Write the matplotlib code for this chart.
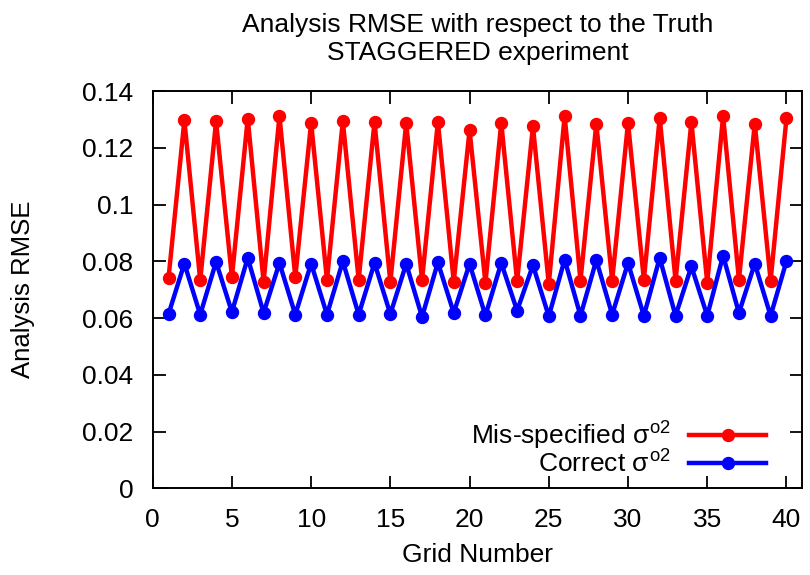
import numpy as np
import matplotlib
matplotlib.use("Agg")
import matplotlib.pyplot as plt
from matplotlib.ticker import FuncFormatter, MultipleLocator

plt.rcParams["font.family"] = ["Liberation Sans", "DejaVu Sans"]
plt.rcParams["mathtext.fontset"] = "custom"
plt.rcParams["mathtext.rm"] = "Liberation Sans"
plt.rcParams["mathtext.it"] = "Liberation Sans"

# grid index and analysis RMSE per grid point
grid = np.arange(1, 41)
rmse_misspec = [0.0741, 0.1297, 0.0733, 0.1294, 0.0744, 0.1303, 0.0727, 0.1312,
                0.0744, 0.1288, 0.0734, 0.1294, 0.0735, 0.1291, 0.0726, 0.1288,
                0.0734, 0.1291, 0.0728, 0.1262, 0.0724, 0.1288, 0.0729, 0.1276,
                0.0720, 0.1312, 0.0732, 0.1285, 0.0732, 0.1288, 0.0735, 0.1306,
                0.0732, 0.1291, 0.0724, 0.1312, 0.0735, 0.1285, 0.0732, 0.1304]
rmse_correct = [0.0614, 0.0792, 0.0612, 0.0798, 0.0621, 0.0812, 0.0618, 0.0794,
                0.0612, 0.0792, 0.0612, 0.0800, 0.0612, 0.0794, 0.0614, 0.0791,
                0.0604, 0.0796, 0.0618, 0.0791, 0.0609, 0.0794, 0.0626, 0.0786,
                0.0606, 0.0806, 0.0608, 0.0804, 0.0612, 0.0794, 0.0608, 0.0812,
                0.0608, 0.0782, 0.0608, 0.0820, 0.0618, 0.0792, 0.0608, 0.0800]

FS = 19
fig = plt.figure(figsize=(8.1, 5.75), dpi=100)
ax = fig.add_axes([0.1885, 0.1508, 0.802, 0.6909])

ax.plot(grid, rmse_misspec, color="#ff0000", lw=3.2, marker="o", ms=8.6,
        label=r"Mis-specified $\sigma^{\mathrm{o2}}$")
ax.plot(grid, rmse_correct, color="#0000ff", lw=3.2, marker="o", ms=8.6,
        label=r"Correct $\sigma^{\mathrm{o2}}$")

ax.set_xlim(0, 41)
ax.set_ylim(0, 0.14)
ax.xaxis.set_major_locator(MultipleLocator(5))
ax.yaxis.set_major_locator(MultipleLocator(0.02))
ax.yaxis.set_major_formatter(FuncFormatter(lambda v, p: "%g" % round(v, 4)))
ax.tick_params(direction="in", length=9, width=1.3, labelsize=FS, pad=14,
               top=True, right=True)
for s in ax.spines.values():
    s.set_linewidth(1.4)

ax.set_xlabel("Grid Number", fontsize=FS)
ax.set_ylabel("Analysis RMSE", fontsize=18.5)
ax.xaxis.set_label_coords(0.5, -0.138)
ax.yaxis.set_label_coords(-0.181, 0.5)

# two-line title centred over the axes
xc = 0.1885 + 0.802 / 2
fig.text(xc, 1 - 31.7 / 575, "Analysis RMSE with respect to the Truth",
         ha="center", va="baseline", fontsize=FS)
fig.text(xc, 1 - 60 / 575, "STAGGERED experiment",
         ha="center", va="baseline", fontsize=FS)

ax.legend(loc="lower right", bbox_to_anchor=(0.96, 0.0), frameon=False,
          markerfirst=False, fontsize=FS, handlelength=2.9, handletextpad=0.7,
          labelspacing=-0.05, borderaxespad=0)

fig.savefig("out.png", dpi=100)
